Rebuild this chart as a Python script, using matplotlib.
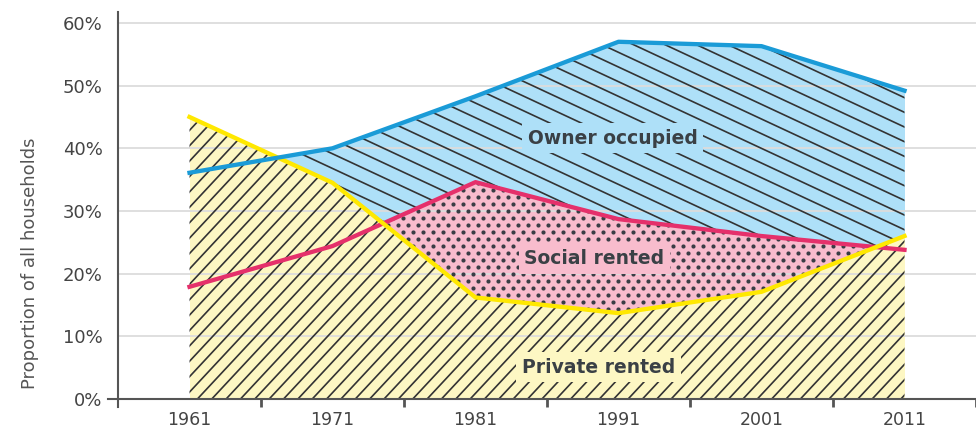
import numpy as np
import matplotlib
matplotlib.use("Agg")
import matplotlib.pyplot as plt
from matplotlib.collections import LineCollection
from matplotlib.path import Path

years = ["1961", "1971", "1981", "1991", "2001", "2011"]
owner = [36.1, 40.0, 48.3, 57.0, 56.3, 49.2]
social = [17.9, 24.4, 34.6, 28.7, 26.0, 23.8]
private = [45.0, 34.5, 16.2, 13.7, 17.1, 26.0]
yticks = [0, 10, 20, 30, 40, 50, 60]

# colours
blue_line, blue_fill = "#1a9bd7", "#aee0f8"
pink_line, pink_fill = "#e5306b", "#f8bccd"
yell_line, yell_fill = "#ffe800", "#fdf7c3"
ink = "#3a4045"

W, H = 858, 395  # axes size in pixels

fig = plt.figure(figsize=(9.76, 4.28), dpi=100)
ax = fig.add_axes([118 / 976, 21 / 428, W / 976, H / 428])

x = np.arange(len(years))
fine = np.linspace(0, len(years) - 1, 1001)
p = np.interp(fine, x, private)
s = np.interp(fine, x, social)
o = np.interp(fine, x, owner)
low = np.maximum(p, s)

yell = ax.fill_between(x, 0, private, color=yell_fill, lw=0, zorder=1)
pink = ax.fill_between(fine, p, s, where=s > p, interpolate=True,
                       color=pink_fill, lw=0, zorder=1)
blue = ax.fill_between(fine, low, o, where=o > low, interpolate=True,
                       color=blue_fill, lw=0, zorder=1)


def clip_to(artist, coll):
    path = Path.make_compound_path(*coll.get_paths())
    artist.set_clip_path(path, ax.transData)


def hatch(coll, angle, gap):
    t = np.radians(angle)
    d = np.array([np.cos(t), np.sin(t)])
    n = np.array([-np.sin(t), np.cos(t)])
    diag = np.hypot(W, H)
    c0 = np.array([W / 2, H / 2])
    segs = []
    for k in np.arange(-diag, diag, gap):
        c = c0 + k * n
        a, b = c - d * diag, c + d * diag
        segs.append([(a[0] / W, a[1] / H), (b[0] / W, b[1] / H)])
    lc = LineCollection(segs, colors="#333333", linewidths=1.2,
                        transform=ax.transAxes, zorder=2)
    ax.add_collection(lc, autolim=False)
    clip_to(lc, coll)


def dots(coll, dx=10.0, dy=7.0):
    pts = []
    for i, yy in enumerate(np.arange(0, H, dy)):
        off = (i % 2) * dx / 2
        for xx in np.arange(off, W, dx):
            pts.append((xx / W, yy / H))
    pts = np.array(pts)
    sc = ax.scatter(pts[:, 0], pts[:, 1], s=9, color="#3a3d45", lw=0,
                    transform=ax.transAxes, zorder=2)
    clip_to(sc, coll)


ax.set_xlim(-0.5, len(years) - 0.5)
ax.set_ylim(-1.28, 61.75)

hatch(yell, 47, 10.5)
hatch(blue, -25, 13.3)
dots(pink)

ax.plot(x, social, color=pink_line, lw=3.1, zorder=3)
ax.plot(x, private, color=yell_line, lw=3.1, zorder=3.1)
ax.plot(x, owner, color=blue_line, lw=3.1, zorder=3.2)

lab = dict(ha="center", va="center", fontsize=13.5, fontweight="bold",
           color=ink, zorder=5)
ax.text(2.96, 41.6, "Owner occupied", bbox=dict(boxstyle="square,pad=0.3",
        fc=blue_fill, ec="none"), **lab)
ax.text(2.83, 22.4, "Social rented", bbox=dict(boxstyle="square,pad=0.3",
        fc=pink_fill, ec="none"), **lab)
ax.text(2.86, 5.1, "Private rented", bbox=dict(boxstyle="square,pad=0.3",
        fc=yell_fill, ec="none"), **lab)

# axes styling
ax.set_axisbelow("line")
ax.yaxis.grid(True, color="#dcdcdc", lw=1.3)
for side in ["top", "right"]:
    ax.spines[side].set_visible(False)
ax.spines["bottom"].set_position(("data", 0))
for side in ["left", "bottom"]:
    ax.spines[side].set_color("#555555")
    ax.spines[side].set_linewidth(1.5)
ax.plot([-10 / W, 0], [0, 0], transform=ax.get_yaxis_transform(),
        color="#555555", lw=1.5, clip_on=False, zorder=2.5)

ax.set_xticks(x)
ax.set_xticklabels(years)
ax.set_xticks(x + 0.5, minor=True)
ax.tick_params(axis="x", which="major", length=0, pad=9, labelsize=12.5,
               labelcolor="#444444")
ax.tick_params(axis="x", which="minor", length=6, width=2, color="#555555")
ax.set_yticks(yticks)
ax.set_yticklabels([f"{v}%" for v in yticks])
ax.tick_params(axis="y", length=0, pad=11, labelsize=13, labelcolor="#444444")
ax.set_ylabel("Proportion of all households", fontsize=13, color="#555555")
ax.yaxis.set_label_coords(-0.092, 0.365)

fig.savefig("out.png", dpi=100)
